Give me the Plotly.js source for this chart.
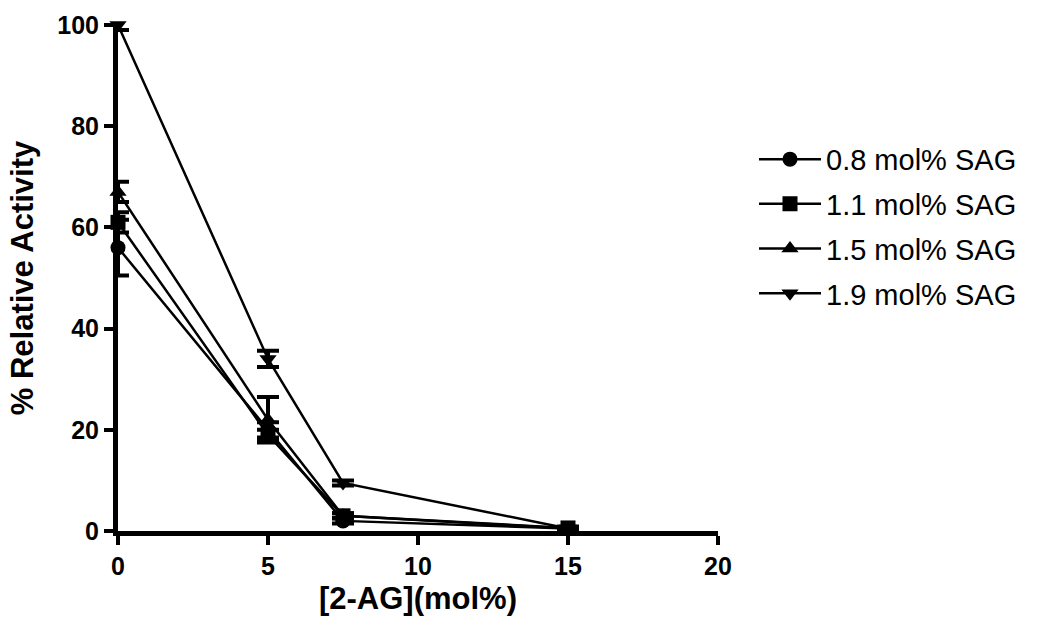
<!DOCTYPE html>
<html>
<head>
<meta charset="utf-8">
<script src="https://cdn.plot.ly/plotly-3.0.1.min.js"></script>
<style>
  html, body { margin: 0; padding: 0; background: #fff; }
  #chart { width: 1050px; height: 634px; }
</style>
</head>
<body>
<div id="chart"></div>
<script>
// 2-AG concentration (mol%)
var conc = [0, 5, 7.5, 15];

var names = ["0.8 mol% SAG", "1.1 mol% SAG", "1.5 mol% SAG", "1.9 mol% SAG"];
var symbols = ["circle", "square", "triangle-up", "triangle-down"];

var act08 = [56, 20, 2, 0.5];
var err08 = [5.5, 1.5, 0.5, 0.3];
var act11 = [61, 19, 3, 0.6];
var err11 = [2, 1, 0.5, 0.3];
var act15 = [67, 22, 3, 0.5];
var err15 = [2, 4.5, 0.5, 0.3];
var act19 = [100, 34, 9.5, 0.5];
var err19 = [1, 1.6, 0.5, 0.3];

var ys = [act08, act11, act15, act19];
var errs = [err08, err11, err15, err19];

var font = "Liberation Sans, Arial, sans-serif";

var data = ys.map(function (y, i) {
    return {
        x: conc,
        y: y,
        name: names[i],
        legendgroup: "g" + i,
        type: "scatter",
        mode: "lines+markers",
        cliponaxis: false,
        line: { color: "#000", width: 2.5 },
        marker: { symbol: symbols[i], size: 15, color: "#000" },
        error_y: { type: "data", array: errs[i], visible: true, color: "#000", thickness: 4, width: 11 }
    };
});

var layout = {
    width: 1050,
    height: 634,
    margin: { l: 118, r: 332, t: 25, b: 103 },
    paper_bgcolor: "#fff",
    plot_bgcolor: "#fff",
    showlegend: true,
    font: { family: font, color: "#000" },
    xaxis: {
        range: [0, 20],
        tickvals: [0, 5, 10, 15, 20],
        showgrid: false,
        zeroline: false,
        showline: true,
        linewidth: 5,
        linecolor: "#000",
        ticks: "outside",
        ticklen: 9,
        tickwidth: 4,
        tickcolor: "#000",
        tickfont: { size: 25, family: font, weight: "bold" },
        title: { text: "<b>[2-AG](mol%)</b>", font: { size: 31, family: font }, standoff: 10 }
    },
    yaxis: {
        range: [0, 100],
        tickvals: [0, 20, 40, 60, 80, 100],
        showgrid: false,
        zeroline: false,
        showline: true,
        linewidth: 5,
        linecolor: "#000",
        ticks: "outside",
        ticklen: 9,
        tickwidth: 4,
        tickcolor: "#000",
        tickfont: { size: 25, family: font, weight: "bold" },
        title: { text: "<b>% Relative Activity</b>", font: { size: 31, family: font }, standoff: 16 }
    },
    legend: {
        x: 1.06,
        y: 0.785,
        xanchor: "left",
        yanchor: "top",
        font: { size: 29, family: font },
        itemwidth: 62,
        bgcolor: "rgba(0,0,0,0)",
        tracegroupgap: 4
    }
};

Plotly.newPlot("chart", data, layout, { displayModeBar: false });
</script>
</body>
</html>
